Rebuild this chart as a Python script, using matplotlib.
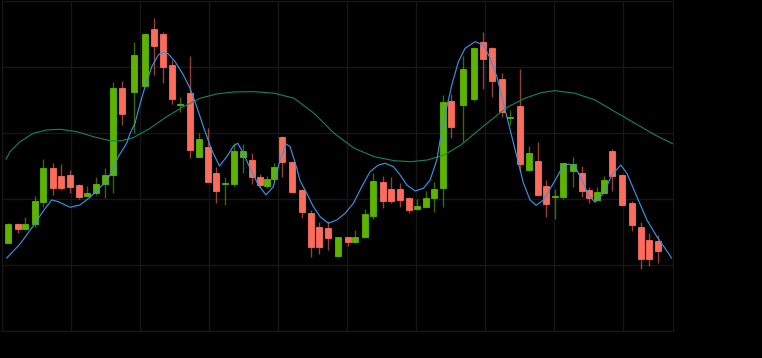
import matplotlib
matplotlib.use("Agg")
import matplotlib.pyplot as plt
import numpy as np

# bar times (days) and OHLC prices
bar_t = [0.66, 1.64, 2.41, 3.40, 4.24, 5.19, 6.04, 6.95, 7.86, 8.67,
         9.59, 10.47, 11.34, 12.19, 13.44, 14.53, 15.44, 16.35, 17.27, 18.14,
         19.09, 20.01, 20.92, 21.79, 22.67, 23.56, 24.47, 25.41, 26.19, 26.97,
         27.64, 28.46, 29.47, 30.49, 31.37, 32.21, 33.12, 34.14, 35.12, 35.89,
         36.85, 37.72, 38.67, 39.51, 40.43, 41.31, 42.12, 43.03, 43.91, 44.76,
         45.63, 46.85, 47.94, 48.88, 49.79, 50.74, 51.59, 52.57, 53.48, 54.40,
         55.27, 56.15, 56.99, 57.95, 58.86, 59.63, 60.38, 61.12, 61.94, 62.95,
         63.94, 64.85, 65.69, 66.57]
opens = [103.4, 106.2, 105.5, 106.2, 109.55, 114.7, 113.48, 113.59, 112.17, 110.5,
         110.86, 112.23, 113.64, 126.82, 126.26, 127.12, 135.76, 134.95, 130.26, 124.27,
         126.11, 116.41, 117.83, 113.89, 112.24, 112.27, 116.32, 115.91, 113.38, 111.92,
         112.98, 119.35, 115.65, 111.36, 107.83, 105.71, 105.61, 101.36, 104.2, 103.48,
         104.2, 107.42, 112.62, 111.47, 111.56, 110.15, 108.48, 108.83, 110.2, 111.62,
         124.85, 124.29, 125.15, 133.74, 132.88, 128.18, 122.3, 124.09, 114.39, 115.8,
         111.97, 110.27, 110.26, 114.29, 113.94, 111.36, 109.85, 110.95, 117.32, 113.64,
         109.44, 105.8, 103.79, 103.64]
highs = [106.41, 106.3, 107.3, 110.45, 116.06, 115.5, 115.3, 114.39, 112.27, 111.97,
         113.29, 114.65, 127.73, 127.83, 133.79, 135.15, 137.42, 135.26, 131.06, 125.5,
         131.67, 119.95, 120.71, 114.89, 113.38, 118.53, 118.33, 116.97, 113.79, 113.48,
         115.5, 119.59, 115.8, 111.52, 108.33, 106.56, 106.71, 104.29, 104.24, 105.3,
         108.44, 113.98, 113.53, 113.29, 112.38, 110.26, 110.0, 111.26, 112.53, 125.76,
         125.91, 131.67, 133.03, 135.35, 133.08, 129.05, 123.48, 129.65, 118.03, 118.68,
         112.88, 111.47, 115.45, 116.41, 115.0, 111.77, 111.77, 113.48, 117.62, 113.74,
         109.65, 106.56, 104.8, 104.55]
lows = [103.33, 104.9, 105.4, 105.8, 108.83, 110.6, 111.36, 110.86, 110.0, 110.45,
        110.6, 110.1, 110.91, 121.21, 120.0, 126.97, 128.79, 127.53, 124.35, 123.23,
        116.17, 116.32, 112.6, 109.44, 109.09, 112.02, 113.89, 112.27, 111.86, 111.62,
        112.77, 113.29, 111.06, 107.08, 101.26, 101.67, 102.27, 101.26, 102.88, 103.4,
        104.1, 106.92, 108.59, 109.35, 108.83, 107.92, 108.33, 108.79, 108.08, 108.83,
        119.2, 118.68, 124.85, 126.67, 125.41, 122.38, 121.21, 114.29, 114.24, 110.45,
        107.32, 106.92, 109.95, 111.86, 110.26, 109.44, 109.7, 110.9, 111.26, 109.0,
        105.11, 99.35, 99.85, 100.26]
closes = [106.2, 105.5, 106.2, 109.7, 114.7, 111.71, 111.7, 111.86, 110.35, 110.95,
          112.23, 113.59, 126.74, 122.85, 131.82, 134.95, 133.23, 129.95, 125.2, 124.39,
          117.42, 119.05, 112.62, 111.21, 112.36, 117.32, 117.32, 113.29, 112.12, 112.98,
          114.8, 115.56, 111.11, 108.08, 102.77, 102.77, 104.05, 104.2, 103.53, 104.24,
          107.68, 112.68, 109.7, 109.7, 109.85, 108.33, 108.94, 110.15, 111.52, 124.74,
          120.86, 129.7, 132.88, 131.21, 127.92, 123.23, 122.42, 115.3, 117.02, 110.6,
          109.24, 110.39, 115.41, 115.3, 111.21, 110.1, 111.06, 112.83, 113.53, 109.09,
          106.02, 100.86, 100.86, 102.12]

# fast smoothed line
fast_t = [0.53, 1.88, 3.23, 4.24, 5.09, 5.76, 6.95, 7.96, 8.98, 9.99,
          10.67, 11.85, 12.70, 13.04, 13.54, 13.88, 14.56, 15.24, 15.91, 16.41,
          16.92, 17.60, 18.44, 19.12, 19.80, 20.47, 21.32, 22.10, 22.85, 23.52,
          23.96, 24.53, 25.21, 26.05, 26.83, 27.57, 28.25, 28.86, 29.27, 29.95,
          30.28, 30.96, 31.63, 32.31, 33.15, 34.01, 34.85, 35.69, 36.54, 37.38,
          38.23, 38.91, 39.75, 40.43, 41.11, 41.95, 42.79, 43.47, 44.15, 44.49,
          44.66, 45.17, 45.67,
          46.34, 47.02, 48.04, 48.88, 49.56, 50.24, 50.91, 51.59, 52.27, 52.94,
          53.61, 54.22, 54.97, 55.98, 56.83, 57.50, 58.18, 58.86, 59.53, 60.21,
          61.05, 61.90, 62.81, 63.43, 64.44, 65.46, 66.47, 67.65, 67.95]
fast_v = [101.06, 103.18, 105.95, 108.18, 109.85, 109.59, 108.74, 109.09, 110.26, 111.77,
          112.62, 116.41, 118.48, 119.95, 121.47, 123.48, 127.02, 130.05, 131.82, 132.23,
          131.97, 130.8, 128.79, 126.77, 123.98, 120.95, 117.42, 115.0, 116.41, 118.03,
          118.44, 116.92, 114.65, 112.12, 110.61, 111.86, 115.91, 118.33, 117.92, 114.65,
          112.77, 110.86, 108.83, 107.32, 106.32, 106.82, 107.83, 109.35, 111.86, 114.14,
          115.15, 115.41, 114.89, 113.64, 112.12, 111.21, 111.62, 112.88, 115.91, 118.94,
          120.45, 123.98, 127.27,
          130.8, 132.83, 133.83, 133.33, 131.32, 128.53, 124.5, 120.45, 116.41, 112.38,
          109.85, 109.05, 109.85, 112.38, 114.65, 115.3, 114.89, 112.88, 110.61, 109.5,
          110.86, 113.64, 115.15, 113.89, 110.35, 106.82, 104.29, 101.77, 101.06]

# slow smoothed line
slow_t = [0.46, 0.86, 1.88, 3.23, 4.59, 5.93, 7.63, 9.31, 11.01, 12.02,
          13.37, 15.07, 16.76, 18.44, 20.14, 21.83, 23.52, 25.55, 27.65, 29.67,
          31.70, 33.73, 35.77, 37.79, 39.82, 41.51, 43.20, 44.89, 46.59, 48.62,
          50.30, 51.39, 53.08, 54.76, 56.12, 58.15, 60.18, 62.21, 64.24, 66.27,
          68.19]
slow_v = [116.02, 117.17, 118.68, 119.95, 120.45, 120.56, 120.2, 119.44, 118.83, 118.79,
          119.29, 120.71, 122.47, 123.98, 125.26, 125.91, 126.21, 126.26, 126.02, 125.26,
          122.98, 119.95, 117.68, 116.41, 115.8, 115.65, 115.91, 116.67, 118.18, 120.71,
          122.73, 123.98, 125.26, 126.11, 126.41, 126.02, 125.0, 123.23, 121.47, 119.7,
          118.29]

up_col = '#5db400'
down_col = '#fb6c5d'

fig = plt.figure(figsize=(7.62, 3.58), dpi=100, facecolor='black')
ax = fig.add_axes([0.002, 0.0754, 0.881, 0.922])
ax.set_facecolor('black')

o = np.array(opens)
c = np.array(closes)
cols = [up_col if cc >= oo else down_col for oo, cc in zip(o, c)]

# wicks then bodies
ax.vlines(bar_t, lows, highs, colors=cols, linewidth=1.0, alpha=0.6, zorder=2)
ax.bar(bar_t, np.abs(c - o), bottom=np.minimum(o, c), width=0.61,
       color=cols, edgecolor=cols, linewidth=0.6, zorder=3)

ax.plot(slow_t, slow_v, color='#18845a', linewidth=0.8, zorder=4)
ax.plot(fast_t, fast_v, color='#3a92e0', linewidth=0.85, zorder=5)

ax.set_xlim(0, 68.09)
ax.set_ylim(90, 140)
ax.set_xticks(np.arange(0, 68, 7))
ax.set_yticks(np.arange(90, 141, 10))
ax.grid(True, color='#171717', linewidth=1.0)
ax.set_axisbelow(True)
ax.tick_params(length=0, labelbottom=False, labelleft=False)
for s in ax.spines.values():
    s.set_color('#171717')

fig.savefig('out.png', dpi=100, facecolor='black')
